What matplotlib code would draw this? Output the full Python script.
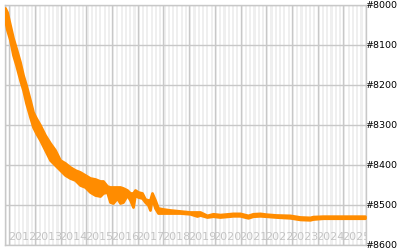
import matplotlib
matplotlib.use("Agg")
import matplotlib.pyplot as plt
import numpy as np

# decimal-year positions
years = [2011.832, 2011.910, 2012.027, 2012.144, 2012.260, 2012.416, 2012.533, 2012.650,
         2012.805, 2012.922, 2013.039, 2013.195, 2013.389, 2013.584, 2013.779, 2013.973,
         2014.168, 2014.362, 2014.557, 2014.752, 2014.946, 2015.141, 2015.336, 2015.530,
         2015.647, 2015.803, 2015.919, 2016.036, 2016.192, 2016.309, 2016.425, 2016.581,
         2016.698, 2016.815, 2016.893, 2017.009, 2017.165, 2017.282, 2017.399, 2017.476,
         2017.554, 2017.671, 2017.788, 2017.982, 2018.255, 2018.644, 2019.033, 2019.306,
         2019.423, 2019.695, 2019.929, 2020.201, 2020.707, 2020.980, 2021.291, 2021.486,
         2021.758, 2021.992, 2022.381, 2022.926, 2023.315, 2023.704, 2023.821, 2024.210,
         2025.845]
# best (top) rank in each period
rank_best = [8007.5, 8017.5, 8050, 8082.5, 8107.5, 8142.5, 8175, 8200,
             8237.5, 8267.5, 8282.5, 8300, 8325, 8345, 8362.5, 8387.5,
             8395, 8405, 8412.5, 8417.5, 8425, 8432.5, 8435, 8440,
             8440, 8452.5, 8455, 8455, 8455, 8455, 8457.5, 8462.5,
             8470, 8470, 8462.5, 8467.5, 8470, 8485, 8487.5, 8487.5,
             8470, 8487.5, 8507.5, 8510, 8512.5, 8515, 8517.5, 8517.5,
             8517.5, 8526, 8522, 8524, 8521, 8521, 8526, 8522,
             8521, 8523, 8525, 8526, 8530, 8531, 8529, 8528,
             8528]
# worst (bottom) rank in each period
rank_worst = [8037.5, 8062.5, 8087.5, 8125, 8150, 8187.5, 8212.5, 8245,
              8280, 8305, 8320, 8337.5, 8362.5, 8387.5, 8400, 8412.5,
              8425, 8432.5, 8437.5, 8450, 8455, 8467.5, 8475, 8477.5,
              8470, 8467.5, 8492.5, 8495, 8482.5, 8495, 8492.5, 8475,
              8487.5, 8505, 8475, 8480, 8482.5, 8492.5, 8500, 8512.5,
              8482.5, 8507.5, 8520, 8520, 8520, 8520, 8522, 8527.5,
              8525, 8530, 8528, 8530, 8527, 8527, 8532, 8528,
              8527, 8528, 8530, 8532, 8536, 8537, 8535, 8533,
              8533]

year_labels = [str(y) for y in range(2012, 2026)]
ytick_vals = [8000, 8100, 8200, 8300, 8400, 8500, 8600]
ytick_labels = ["#" + str(v) for v in ytick_vals]

fig = plt.figure(figsize=(4, 2.5), dpi=100)
ax = fig.add_axes([5 / 400, 5 / 250, 360.7 / 400, 240 / 250])
ax.set_facecolor("white")

x0, x1 = 2011.832, 2025.873
ax.set_xlim(x0, x1)
ax.set_ylim(8600, 8000)

# monthly alternating stripes
m = 0
t = 2011 + 10 / 12
while t < x1:
    if m % 2 == 0:
        ax.axvspan(t, t + 1 / 12, color="#efefef", lw=0, zorder=0)
    t += 1 / 12
    m += 1

grid_c = "#c8c8c8"
for y in range(2012, 2026):
    ax.axvline(y, color=grid_c, lw=1.0, zorder=1)
for v in ytick_vals:
    ax.axhline(v, color=grid_c, lw=1.0, zorder=1)

for s in ax.spines.values():
    s.set_color(grid_c)
    s.set_linewidth(1.0)

orange = "#ff8c00"
ax.fill_between(years, rank_best, rank_worst, color=orange, lw=2.0,
                edgecolor=orange, zorder=3)

for lab in year_labels:
    yv = int(lab)
    ax.text(yv + 0.5, 0.032, lab, transform=ax.get_xaxis_transform(),
            ha="center", va="center", fontsize=8, color="#c4c4c4",
            clip_on=True, zorder=2)

ax.set_xticks([])
ax.yaxis.tick_right()
ax.set_yticks(ytick_vals)
ax.set_yticklabels(ytick_labels)
ax.tick_params(axis="y", length=0, pad=0, labelsize=6.8, labelcolor="black")

fig.savefig("out.png", dpi=100)
